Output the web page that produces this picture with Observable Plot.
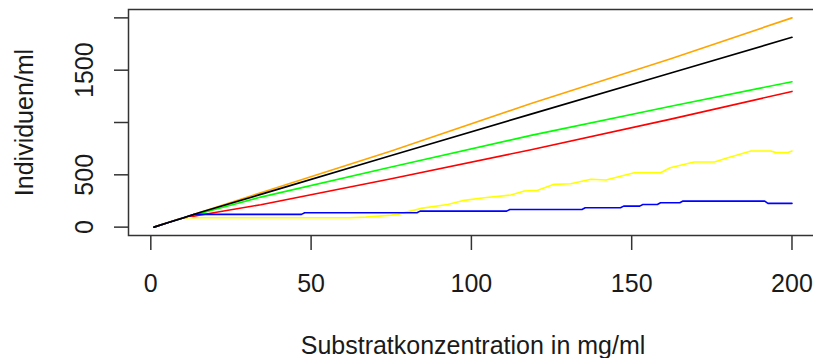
<!DOCTYPE html>
<html><head><meta charset="utf-8">
<script src="https://cdn.jsdelivr.net/npm/d3@7"></script>
<script src="https://cdn.jsdelivr.net/npm/@observablehq/plot@0.6"></script>
<style>
html,body{margin:0;padding:0;overflow:hidden;background:#fff;}
</style></head><body><div id="chart"></div>
<script>
// Tick values and labels
const xTicks = [0, 50, 100, 150, 200];
const xTickLabels = ["0", "50", "100", "150", "200"];
const yTicks = [0, 500, 1000, 1500, 2000];
const yTickLabels = ["0", "500", "", "1500", ""];
const xTitle = "Substratkonzentration in mg/ml";
const yTitle = "Individuen/ml";

// Series
const orangeX = [1, 5, 10, 15, 34.3, 75, 118.6, 162.2, 200];
const orangeY = [0, 40, 88, 138, 329, 728, 1182, 1610, 2000];

const greenX = [1, 5, 10, 15, 34.3, 75, 118.6, 162.2, 200];
const greenY = [0, 40, 88, 128, 287, 575, 877, 1156, 1390];

const redX = [1, 5, 9, 20, 34.3, 75, 118.6, 162.2, 200];
const redY = [0, 40, 80, 140, 214, 462, 740, 1032, 1297];

const yellowX = [1, 5, 9.9, 62, 67, 75, 77, 81, 84.2, 92.6, 97.8, 104, 112.3, 116.5, 120.7, 125.8, 131, 137.3, 142, 145.6, 150.8, 159, 162, 169.5, 175.8, 180, 187.2, 193.4, 195, 198.6, 200];
const yellowY = [0, 40, 89, 89, 96, 115, 122, 153, 179, 217, 256, 281, 307, 345, 352, 409, 415, 457, 450, 479, 520, 520, 568, 623, 623, 664, 728, 728, 712, 712, 728];

const blueX = [1, 5, 10, 13.5, 47, 48, 83, 84, 111, 112, 134.5, 135.5, 146.5, 147.5, 152.5, 153.5, 158, 159, 165, 166, 191.5, 192.5, 200];
const blueY = [0, 40, 88, 122, 122, 137, 137, 153, 153, 169, 169, 185, 185, 201, 201, 217, 217, 233, 233, 249, 249, 227, 227];

const blackX = [1, 5, 10, 15, 34.3, 75, 118.6, 162.2, 200];
const blackY = [0, 40, 88, 137, 313, 685, 1080, 1474, 1814];

const seriesNames = ["orange", "green", "red", "yellow", "blue", "black"];
const seriesColors = ["#FFA500", "#00FF00", "#FF0000", "#FFFF00", "#0000FF", "#000000"];
const seriesXs = [orangeX, greenX, redX, yellowX, blueX, blackX];
const seriesYs = [orangeY, greenY, redY, yellowY, blueY, blackY];

const seriesRows = seriesNames.map((name, k) =>
  seriesXs[k].map((x, i) => ({series: name, x, y: seriesYs[k][i]}))
);

const font = "'Liberation Sans', Arial, Helvetica, sans-serif";
const textColor = "#1a1a1a";

const chart = Plot.plot({
  width: 813,
  height: 358,
  marginLeft: 128,
  marginRight: -4,
  marginTop: 9,
  marginBottom: 123,
  x: {domain: [-6.96, 207.96]},
  y: {domain: [-80, 2080]},
  style: {fontFamily: font, fontSize: "25px", color: textColor, background: "white"},
  marks: [
    ...seriesRows.map((rows, k) =>
      Plot.line(rows, {x: "x", y: "y", stroke: seriesColors[k], strokeWidth: 1.6})
    ),
    Plot.frame({stroke: "#333", strokeWidth: 1.5}),
    Plot.axisX({ticks: xTicks, tickSize: 15, tickFormat: () => "", label: null, stroke: "#333", strokeWidth: 1.5}),
    Plot.axisY({ticks: yTicks, tickSize: 14, tickFormat: () => "", label: null, stroke: "#333", strokeWidth: 1.5}),
    Plot.text(xTicks, {x: d => d, text: (d, i) => xTickLabels[i], frameAnchor: "bottom", textAnchor: "middle", lineAnchor: "middle", dy: 48, fontSize: 25, fill: textColor}),
    Plot.text(yTicks, {y: d => d, text: (d, i) => yTickLabels[i], frameAnchor: "left", textAnchor: "middle", lineAnchor: "middle", dx: -44, rotate: -90, fontSize: 25, fill: textColor}),
    Plot.text([xTitle], {text: d => d, frameAnchor: "bottom", textAnchor: "middle", lineAnchor: "middle", dy: 110, fontSize: 25, fill: textColor}),
    Plot.text([yTitle], {text: d => d, frameAnchor: "left", textAnchor: "middle", lineAnchor: "middle", dx: -104, rotate: -90, fontSize: 25, fill: textColor})
  ]
});
document.getElementById("chart").appendChild(chart);
</script>
</body></html>
